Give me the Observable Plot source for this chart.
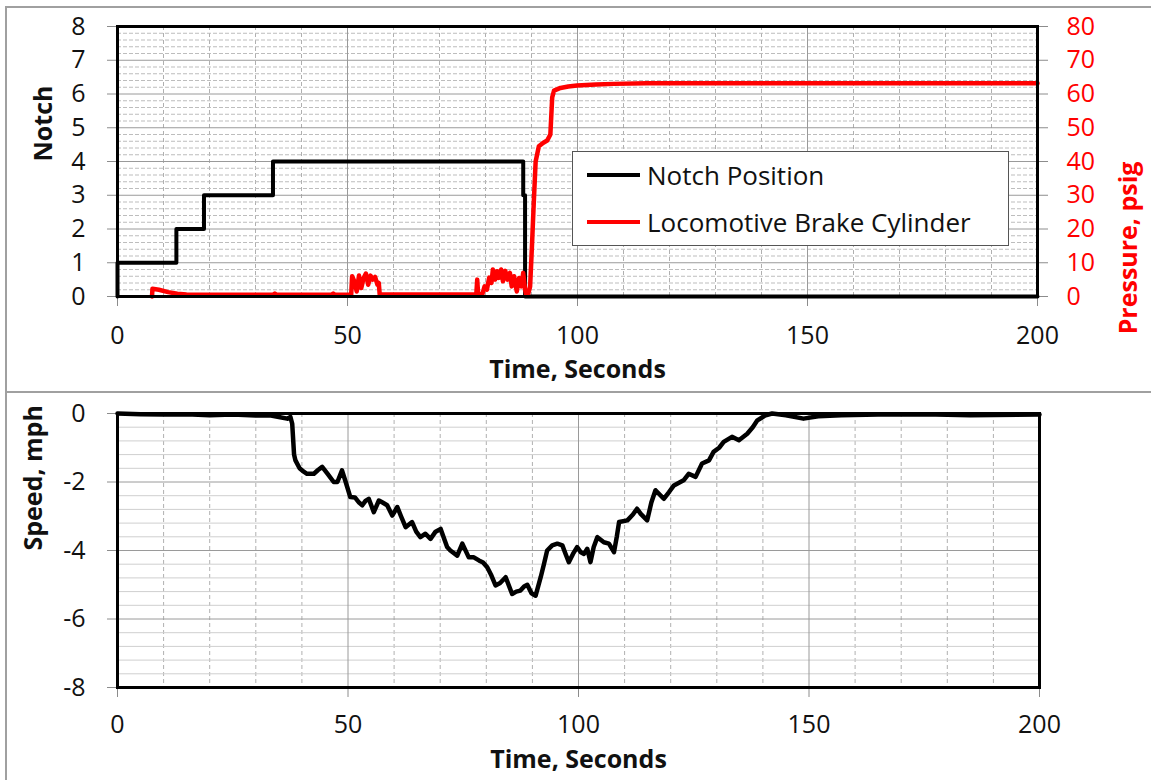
<!DOCTYPE html>
<html>
<head>
<meta charset="utf-8">
<script src="https://cdn.jsdelivr.net/npm/d3@7"></script>
<script src="https://cdn.jsdelivr.net/npm/@observablehq/plot@0.6"></script>
<style>
  html, body { margin: 0; padding: 0; background: #fff; }
  #wrap { position: relative; width: 1151px; height: 780px; overflow: hidden; font-family: "Open Sans", sans-serif; }
  .panel { position: absolute; left: 0; }
  .bline { position: absolute; background: #a0a0a0; }
  #legend { position: absolute; left: 572px; top: 151px; width: 437px; height: 95px; border: 1px solid #555; background: #fff; box-sizing: border-box; }
  .lrow { position: absolute; left: 14px; height: 40px; display: flex; align-items: center; }
  .lsw { width: 53px; height: 4px; margin-right: 7px; }
  .ltx { font-size: 26px; color: #111; white-space: nowrap; }
</style>
</head>
<body>
<div id="wrap">
  <div id="topPanel" class="panel" style="top:0"></div>
  <div id="botPanel" class="panel" style="top:390px"></div>
  <div class="bline" style="left:5px; top:6px; width:1146px; height:2px"></div>
  <div class="bline" style="left:5px; top:6px; width:2px; height:774px"></div>
  <div class="bline" style="left:5px; top:391px; width:1146px; height:2px"></div>
  <div id="legend"></div>
</div>
<script>
// ---------- data ----------
const xTicks = [0, 50, 100, 150, 200];
const notchTicks = [0, 1, 2, 3, 4, 5, 6, 7, 8];
const pressureTicks = [0, 10, 20, 30, 40, 50, 60, 70, 80];
const speedTicks = [0, -2, -4, -6, -8];

const seriesNames = ["Notch Position", "Locomotive Brake Cylinder"];
const seriesColors = ["#000000", "#ff0000"];

// Notch position (step)
const notchTime  = [0, 0, 12.8, 18.8, 33.8, 88.2, 88.6, 200];
const notchValue = [0, 1, 2,    3,    4,    3,    0,    0];

// Locomotive brake cylinder pressure, psig
const pressTime = [7.5, 7.6, 9, 11, 13, 15, 20, 30, 33.8, 34.2, 34.6, 40, 46.5, 46.9, 47.3, 50.8,
  51, 51.5, 52, 52.5, 53, 53.5, 54, 54.5, 55, 55.5, 56, 56.5, 56.8, 57, 65, 78, 78.2, 78.4,
  79.3, 79.8, 80.3, 80.8, 81.3, 81.6, 82.1, 82.5, 82.9, 83.4, 83.8, 84.3, 84.8, 85.3, 85.7, 86.2,
  86.8, 87.3, 87.8, 88.2, 88.6, 88.9, 89.3, 89.7, 90.1, 90.5, 90.9, 91.6, 92.5, 93.4, 94.1, 94.5,
  94.9, 96.3, 98, 99.9, 104, 107.9, 115, 150, 200];
const pressValue = [0, 2.3, 2.0, 1.3, 0.8, 0.6, 0.5, 0.5, 0.5, 0.9, 0.5, 0.5, 0.5, 0.9, 0.5, 0.5,
  6.0, 4.5, 1.5, 6.2, 2.5, 5.5, 6.8, 3.5, 6.2, 5.0, 5.8, 3.5, 4.0, 0.6, 0.6, 0.6, 5.0, 0.8,
  0.6, 3.0, 2.0, 5.6, 4.0, 8.0, 5.0, 7.5, 5.5, 8.0, 4.5, 7.6, 5.0, 7.0, 3.0, 6.0,
  1.5, 5.5, 3.0, 7.0, 2.0, 0.2, 0.8, 3.0, 15, 28, 40, 44.5, 45.5, 46.2, 48, 59,
  61, 61.8, 62.2, 62.5, 62.8, 63.0, 63.2, 63.2, 63.2];

// Speed, mph
const speedTime = [0, 5, 10, 15, 20, 25, 30, 33, 35, 36.8, 37.5, 37.9, 38.3, 38.6, 39.5, 40.4, 41.1,
  42.6, 43.5, 44.4, 45.5, 46.9, 47.7, 48.7, 49.5, 50.5, 51.5, 52.4, 53.1, 53.8, 54.5, 55.6, 56.7,
  57.5, 58.5, 59.6, 60.7, 61.5, 62.5, 63.9, 64.8, 65.7, 66.8, 67.9, 69, 70.1, 71.5, 72.2, 73.7,
  74.8, 76.2, 77.3, 78.4, 79.3, 80.2, 81, 82, 83, 84.2, 85.6, 86.5, 87.4, 88.2, 88.9, 89.8, 90.7,
  91.8, 92.5, 93.2, 94.3, 95.4, 96.5, 97.2, 97.9, 98.8, 99.7, 100.5, 101.2, 101.9, 102.6, 103.3,
  104.1, 105.5, 106.6, 107.7, 108.3, 108.8, 110.6, 111.8, 112.7, 113.5, 114.9, 115.8, 116.7, 118.5,
  119.6, 120.7, 122.8, 123.9, 125.4, 126.8, 128.3, 129.3, 130.5, 131.5, 133.3, 134.8, 136.6, 137.8,
  138.8, 140.6, 142, 145, 148.8, 152, 157, 165, 175, 185, 200];
const speedValue = [0, -0.02, -0.03, -0.02, -0.05, -0.03, -0.06, -0.05, -0.1, -0.15, -0.1, -0.3, -1.2, -1.37, -1.6, -1.7, -1.76,
  -1.76, -1.65, -1.56, -1.75, -2.0, -2.0, -1.66, -2.0, -2.44, -2.45, -2.6, -2.68, -2.55, -2.49, -2.88, -2.54,
  -2.6, -2.68, -2.98, -2.73, -3.0, -3.32, -3.17, -3.45, -3.61, -3.51, -3.66, -3.45, -3.37, -3.9, -4.0, -4.15,
  -3.8, -4.2, -4.2, -4.29, -4.35, -4.49, -4.7, -5.02, -4.95, -4.78, -5.27, -5.2, -5.17, -5.05, -5.0, -5.25, -5.32,
  -4.78, -4.4, -4.0, -3.85, -3.8, -3.85, -4.1, -4.34, -4.1, -3.9, -4.05, -4.1, -3.95, -4.34, -3.9,
  -3.61, -3.76, -3.8, -4.05, -3.6, -3.17, -3.12, -2.95, -2.78, -2.93, -3.12, -2.6, -2.24, -2.49,
  -2.3, -2.1, -1.95, -1.76, -1.85, -1.46, -1.37, -1.12, -1.0, -0.83, -0.68, -0.78, -0.59, -0.4,
  -0.2, -0.05, 0, -0.05, -0.15, -0.08, -0.05, -0.03, -0.02, -0.05, -0.03];

// ---------- tables ----------
const notch = notchTime.map((t, i) => ({t, v: notchValue[i]}));
const pressure = pressTime.map((t, i) => ({t, p: pressValue[i]}));
const speed = speedTime.map((t, i) => ({t, v: speedValue[i]}));

const minorX = d3.range(10, 200, 10).filter(d => d % 50 !== 0);
const minorYTop = d3.range(0.2, 8, 0.2).filter(d => Math.abs(d - Math.round(d)) > 0.01);
const minorYBot = d3.range(-7.6, 0, 0.4).filter(d => Math.abs(d / 2 - Math.round(d / 2)) > 0.01);

const FONT = "Open Sans";
const tickGray = "#8c8c8c";
const plain = d => String(d);

// ---------- top chart ----------
const topChart = Plot.plot({
  width: 1151, height: 390,
  marginLeft: 117, marginRight: 114, marginTop: 26, marginBottom: 94,
  x: {domain: [0, 200]},
  y: {domain: [0, 8]},
  style: {fontFamily: FONT, fontSize: "25px", background: "transparent", color: "#111"},
  marks: [
    Plot.gridX(minorX, {stroke: "#b0b0b0", strokeOpacity: 1, strokeDasharray: "4,3"}),
    Plot.gridY(minorYTop, {stroke: "#bdbdbd", strokeOpacity: 1, strokeDasharray: "4,2"}),
    Plot.gridX(xTicks, {stroke: "#9a9a9a", strokeOpacity: 1}),
    Plot.gridY(notchTicks, {stroke: "#9a9a9a", strokeOpacity: 1}),
    Plot.axisX(xTicks, {tickSize: 10, tickPadding: 20, stroke: tickGray, label: null, fill: "#111", tickFormat: plain}),
    Plot.axisY(notchTicks, {anchor: "left", tickSize: 10, tickPadding: 22, stroke: tickGray, label: null, fill: "#111", tickFormat: plain}),
    Plot.axisY(pressureTicks.map(d => d / 10), {anchor: "right", tickSize: 10, tickPadding: 19, stroke: tickGray,
      tickFormat: d => String(Math.round(d * 10)), fill: "#ff0000", label: null}),
    Plot.line(notch, {x: "t", y: "v", curve: "step-after", stroke: seriesColors[0], strokeWidth: 4}),
    Plot.line(pressure, {x: "t", y: d => d.p / 10, stroke: seriesColors[1], strokeWidth: 4.5}),
    Plot.frame({stroke: "#000", strokeWidth: 3}),
    Plot.text(["Time, Seconds"], {frameAnchor: "bottom", dy: 81, text: d => d, fontWeight: "bold", fontSize: 25, fill: "#111"}),
    Plot.text(["Notch"], {frameAnchor: "left", dx: -74, rotate: -90, text: d => d, fontWeight: "bold", fontSize: 25, fill: "#111"}),
    Plot.text(["Pressure, psig"], {frameAnchor: "right", dx: 91, rotate: -90, text: d => d, fontWeight: "bold", fontSize: 25, fill: "#ff0000"})
  ]
});
document.getElementById("topPanel").appendChild(topChart);

// ---------- bottom chart ----------
const botChart = Plot.plot({
  width: 1151, height: 390,
  marginLeft: 117, marginRight: 112, marginTop: 23, marginBottom: 93,
  x: {domain: [0, 200]},
  y: {domain: [-8, 0]},
  style: {fontFamily: FONT, fontSize: "25px", background: "transparent", color: "#111"},
  marks: [
    Plot.gridX(minorX, {stroke: "#b0b0b0", strokeOpacity: 1, strokeDasharray: "4,3"}),
    Plot.gridY(minorYBot, {stroke: "#cfcfcf", strokeOpacity: 1}),
    Plot.gridX(xTicks, {stroke: "#9a9a9a", strokeOpacity: 1}),
    Plot.gridY(speedTicks, {stroke: "#9a9a9a", strokeOpacity: 1}),
    Plot.axisX(xTicks, {tickSize: 10, tickPadding: 18, stroke: tickGray, label: null, fill: "#111", tickFormat: plain}),
    Plot.axisY(speedTicks, {anchor: "left", tickSize: 10, tickPadding: 22, stroke: tickGray, label: null, fill: "#111", tickFormat: plain}),
    Plot.line(speed, {x: "t", y: "v", stroke: "#000", strokeWidth: 4.5, strokeLinejoin: "round"}),
    Plot.frame({stroke: "#000", strokeWidth: 3}),
    Plot.text(["Time, Seconds"], {frameAnchor: "bottom", dy: 80, text: d => d, fontWeight: "bold", fontSize: 25, fill: "#111"}),
    Plot.text(["Speed, mph"], {frameAnchor: "left", dx: -84, rotate: -90, text: d => d, fontWeight: "bold", fontSize: 25, fill: "#111"})
  ]
});
document.getElementById("botPanel").appendChild(botChart);

// ---------- legend ----------
const legend = document.getElementById("legend");
seriesNames.forEach((name, i) => {
  const row = document.createElement("div");
  row.className = "lrow";
  row.style.top = (i === 0 ? 3 : 50) + "px";
  const sw = document.createElement("div");
  sw.className = "lsw";
  sw.style.background = seriesColors[i];
  const tx = document.createElement("span");
  tx.className = "ltx";
  tx.textContent = name;
  row.appendChild(sw);
  row.appendChild(tx);
  legend.appendChild(row);
});
</script>
</body>
</html>
